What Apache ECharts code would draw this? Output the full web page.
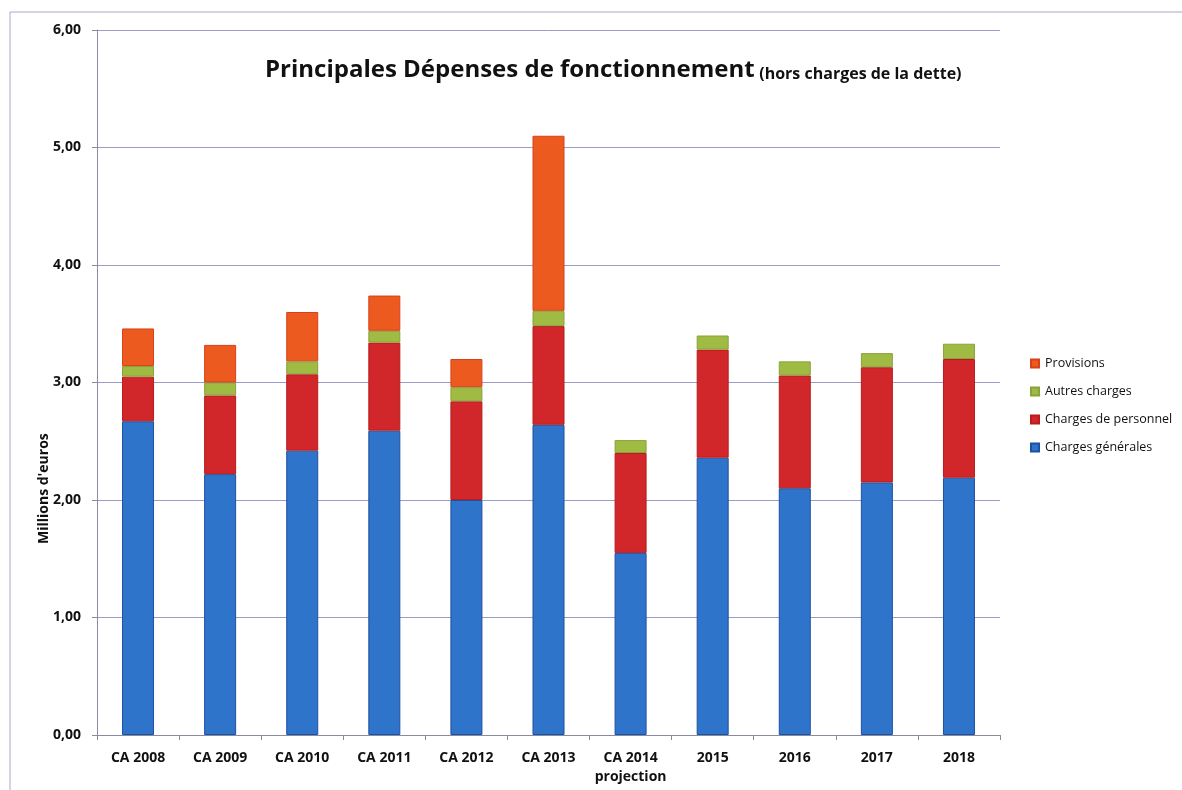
<!DOCTYPE html>
<html>
<head>
<meta charset="utf-8">
<script src="https://cdn.jsdelivr.net/npm/echarts@6/dist/echarts.min.js"></script>
<style>
  html, body { margin: 0; padding: 0; background: #fff; }
  #chart { width: 1182px; height: 790px; }
</style>
</head>
<body>
<div id="chart"></div>
<script>
  // données (millions d'euros)
  var categories = ['CA 2008', 'CA 2009', 'CA 2010', 'CA 2011', 'CA 2012', 'CA 2013', 'CA 2014\nprojection', '2015', '2016', '2017', '2018'];
  var chargesGenerales = [2.67, 2.22, 2.42, 2.59, 2.00, 2.64, 1.55, 2.36, 2.10, 2.15, 2.19];
  var chargesPersonnel = [0.38, 0.67, 0.65, 0.75, 0.84, 0.84, 0.85, 0.92, 0.96, 0.98, 1.01];
  var autresCharges = [0.09, 0.11, 0.11, 0.10, 0.12, 0.13, 0.11, 0.12, 0.12, 0.12, 0.13];
  var provisions = [0.32, 0.32, 0.42, 0.30, 0.24, 1.49, null, null, null, null, null];

  var font = '"Open Sans", "DejaVu Sans", sans-serif';
  var gridColor = '#9a9cc6';
  var axisColor = '#8a8c9e';

  var myChart = echarts.init(document.getElementById('chart'));

  // une série empilée
  function serie(name, data, color, border) {
    return {
      name: name,
      type: 'bar',
      stack: 'total',
      barWidth: 32,
      data: data,
      itemStyle: { color: color, borderColor: border, borderWidth: 1 }
    };
  }

  myChart.setOption({
    backgroundColor: '#fff',
    animation: false,
    textStyle: { fontFamily: font },
    title: {
      left: 260,
      top: 53,
      text: '{a|Principales Dépenses de fonctionnement} {b|(hors charges de la dette)}',
      textStyle: {
        rich: {
          a: { fontFamily: font, fontSize: 24, fontWeight: 'bold', color: '#111' },
          b: { fontFamily: font, fontSize: 16, fontWeight: 'bold', color: '#111', verticalAlign: 'bottom' }
        }
      }
    },
    legend: {
      orient: 'vertical',
      left: 1025,
      top: 352,
      itemWidth: 8,
      itemHeight: 8,
      itemGap: 15,
      icon: 'rect',
      data: ['Provisions', 'Autres charges', 'Charges de personnel', 'Charges générales'],
      textStyle: { fontFamily: font, fontSize: 12.5, color: '#111', padding: [0, 0, 0, 1] }
    },
    grid: { left: 97, right: 182, top: 30, bottom: 55 },
    xAxis: {
      type: 'category',
      data: categories,
      axisLine: { lineStyle: { color: axisColor, width: 1 } },
      axisTick: { show: true, length: 5, interval: 0, lineStyle: { color: axisColor } },
      axisLabel: { interval: 0, fontFamily: font, fontSize: 14, fontWeight: 'bold', color: '#111', margin: 14, lineHeight: 19 }
    },
    yAxis: {
      type: 'value',
      min: 0,
      max: 6,
      interval: 1,
      axisLine: { show: true, lineStyle: { color: axisColor, width: 1 } },
      axisTick: { show: true, length: 5, lineStyle: { color: axisColor } },
      axisLabel: {
        fontFamily: font, fontSize: 14, fontWeight: 'bold', color: '#111', margin: 16,
        formatter: function (v) { return v.toFixed(2).replace('.', ','); }
      },
      splitLine: { lineStyle: { color: gridColor, width: 1 } }
    },
    graphic: [
      {
        // titre de l'axe vertical
        type: 'text',
        x: 37,
        y: 544,
        rotation: Math.PI / 2,
        style: {
          text: "Millions d'euros",
          fontFamily: font,
          fontSize: 14,
          fontWeight: 'bold',
          fill: '#111'
        }
      },
      {
        type: 'polyline',
        shape: { points: [[10, 790], [10, 12], [1182, 12]] },
        style: { stroke: '#a6a8c8', lineWidth: 1, fill: null }
      }
    ],
    series: [
      serie('Charges générales', chargesGenerales, '#2f74cb', '#1f4fa0'),
      serie('Charges de personnel', chargesPersonnel, '#d2272a', '#b81c1c'),
      serie('Autres charges', autresCharges, '#9fbb43', '#8aa23a'),
      serie('Provisions', provisions, '#ec5a1f', '#d8401a')
    ]
  });
</script>
</body>
</html>
